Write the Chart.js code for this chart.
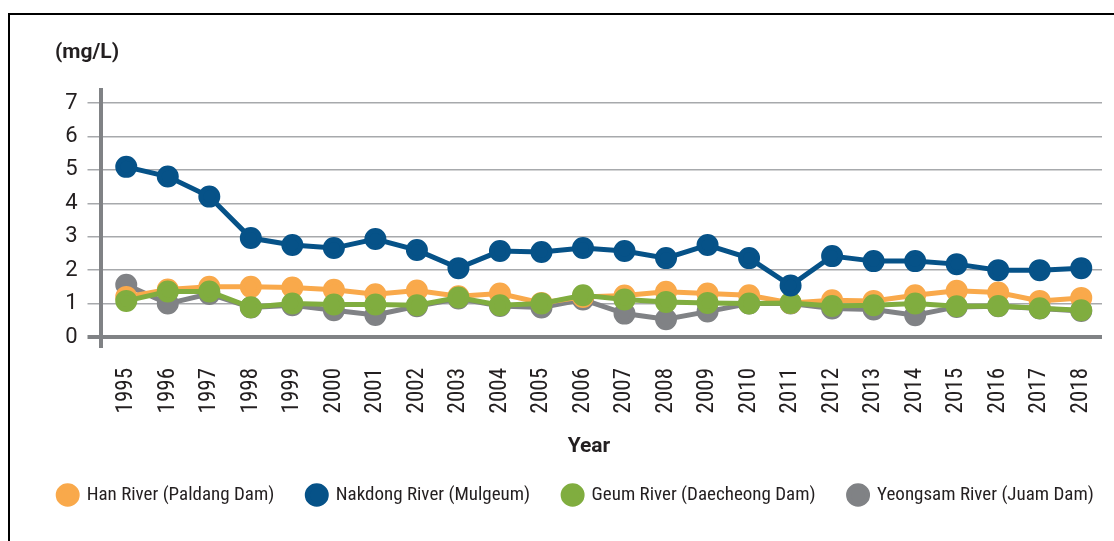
<!DOCTYPE html>
<html>
<head>
<meta charset="utf-8">
<script src="https://cdn.jsdelivr.net/npm/chart.js@4/dist/chart.umd.min.js"></script>
<style>
  html, body { margin: 0; padding: 0; background: #fff; overflow: hidden; }
  #frame { position: absolute; left: 8px; top: 13px; width: 1200px; height: 600px; border: 2px solid #000; }
  #wrap { position: absolute; left: 0; top: 0; width: 1152px; height: 541px; }
</style>
</head>
<body>
<div id="frame"></div>
<div id="wrap"><canvas id="lineChart"></canvas></div>
<script>
// values (mg/L)
const years = ['1995', '1996', '1997', '1998', '1999', '2000', '2001', '2002', '2003', '2004', '2005', '2006',
  '2007', '2008', '2009', '2010', '2011', '2012', '2013', '2014', '2015', '2016', '2017', '2018'];
const hanRiver = [1.2, 1.42, 1.5, 1.5, 1.48, 1.41, 1.28, 1.39, 1.22, 1.3, 1.02, 1.2,
  1.24, 1.35, 1.3, 1.25, 1.02, 1.1, 1.08, 1.25, 1.38, 1.33, 1.08, 1.17];
const nakdongRiver = [5.09, 4.8, 4.2, 2.96, 2.75, 2.66, 2.93, 2.6, 2.06, 2.57, 2.54, 2.66,
  2.57, 2.36, 2.75, 2.36, 1.54, 2.42, 2.27, 2.27, 2.18, 2.0, 2.0, 2.06];
const geumRiver = [1.08, 1.36, 1.36, 0.89, 1.0, 0.97, 0.97, 0.95, 1.18, 0.95, 1.0, 1.25,
  1.12, 1.05, 1.02, 1.0, 1.02, 0.93, 0.95, 1.0, 0.92, 0.93, 0.86, 0.8];
const yeongsamRiver = [1.56, 1.0, 1.29, 0.88, 0.95, 0.8, 0.66, 0.92, 1.15, 0.93, 0.88, 1.12,
  0.7, 0.53, 0.76, 1.0, 1.0, 0.85, 0.82, 0.65, 0.9, 0.92, 0.85, 0.78];
const yTicks = [0, 1, 2, 3, 4, 5, 6, 7];

const fontFamily = "'Roboto Condensed', 'Liberation Sans Narrow', Roboto, sans-serif";
const textColor = '#231f20';

function makeSet(label, data, color, order) {
  return {
    label: label,
    data: data,
    borderColor: color,
    backgroundColor: color,
    pointBackgroundColor: color,
    pointBorderColor: color,
    borderWidth: 5,
    pointRadius: 8.5,
    pointHoverRadius: 8.5,
    tension: 0,
    order: order
  };
}

// y axis line and the two free text labels
const extras = {
  id: 'extras',
  afterDraw(chart) {
    const c = chart.ctx;
    c.save();
    c.strokeStyle = '#808285';
    c.lineWidth = 4;
    c.beginPath();
    c.moveTo(101, 88);
    c.lineTo(101, 348);
    c.stroke();
    c.fillStyle = textColor;
    c.font = 'bold 21px Roboto, sans-serif';
    c.textBaseline = 'middle';
    c.textAlign = 'left';
    c.fillText('(mg/L)', 55, 53);
    c.textAlign = 'center';
    c.fillText('Year', 589, 447);
    c.restore();
  }
};

new Chart(document.getElementById('lineChart').getContext('2d'), {
  type: 'line',
  data: {
    labels: years,
    datasets: [
      makeSet('Han River (Paldang Dam)', hanRiver, '#f9a94b', 2),
      makeSet('Nakdong River (Mulgeum)', nakdongRiver, '#065288', 0),
      makeSet('Geum River (Daecheong Dam)', geumRiver, '#80ad3f', 1),
      makeSet('Yeongsam River (Juam Dam)', yeongsamRiver, '#808285', 3)
    ]
  },
  options: {
    responsive: true,
    maintainAspectRatio: false,
    animation: false,
    layout: { padding: { left: 0, right: 0, top: 103, bottom: 26.5 } },
    plugins: {
      tooltip: { enabled: false },
      legend: {
        position: 'bottom',
        labels: {
          usePointStyle: true,
          pointStyle: 'circle',
          boxHeight: 13,
          pointStyleWidth: 19,
          padding: 33,
          color: textColor,
          font: { family: fontFamily, size: 19 },
          sort: (a, b) => a.datasetIndex - b.datasetIndex
        }
      }
    },
    scales: {
      x: {
        offset: true,
        grid: { display: false },
        border: { display: false },
        ticks: {
          minRotation: 90,
          maxRotation: 90,
          autoSkip: false,
          padding: 23,
          color: textColor,
          font: { family: fontFamily, size: 23 }
        },
        afterFit: scale => {
          scale.height = 115.5;
          scale.paddingLeft = 0;
          scale.paddingRight = 50;
        }
      },
      y: {
        min: 0,
        max: 7,
        border: { display: false },
        afterBuildTicks: scale => { scale.ticks = yTicks.map(v => ({ value: v })); },
        grid: {
          color: ctx => ctx.tick && ctx.tick.value === 0 ? '#808285' : '#a7a9ac',
          lineWidth: ctx => ctx.tick && ctx.tick.value === 0 ? 4 : 1.5,
          tickLength: 18
        },
        ticks: {
          autoSkip: false,
          padding: 10,
          color: textColor,
          font: { family: 'Roboto, sans-serif', size: 22 }
        },
        afterFit: scale => { scale.width = 105.5; }
      }
    }
  },
  plugins: [extras]
});
</script>
</body>
</html>
